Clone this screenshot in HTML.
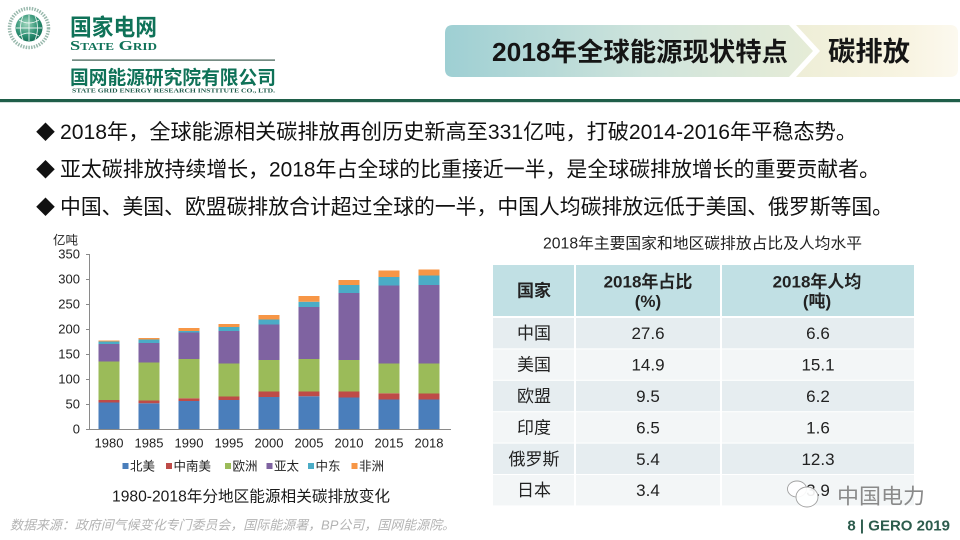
<!DOCTYPE html>
<html><head><meta charset="utf-8"><style>
html,body{margin:0;padding:0;background:#fff;}
svg{display:block;}
</style></head><body>
<svg width="960" height="540" viewBox="0 0 960 540" xmlns="http://www.w3.org/2000/svg" font-family="Liberation Sans, Noto Sans CJK SC, sans-serif">
<defs>
<linearGradient id="bl" x1="0" x2="1" y1="0" y2="0">
<stop offset="0" stop-color="#9ecfd3"/><stop offset="0.55" stop-color="#cfe4dc"/><stop offset="1" stop-color="#e6ecd7"/>
</linearGradient>
<linearGradient id="br" x1="0" x2="1" y1="0" y2="0">
<stop offset="0" stop-color="#eeeed7"/><stop offset="0.7" stop-color="#f8f4e2"/><stop offset="1" stop-color="#fcf9ef"/>
</linearGradient>
<radialGradient id="gl" cx="0.4" cy="0.35" r="0.7">
<stop offset="0" stop-color="#9fd6bd"/><stop offset="0.6" stop-color="#2f9274"/><stop offset="1" stop-color="#106a52"/>
</radialGradient>
</defs>
<rect width="960" height="540" fill="#fff"/>

<!-- Logo -->
<circle cx="29" cy="28" r="19.5" fill="none" stroke="#7fa898" stroke-width="3.5" stroke-dasharray="1.5 1.2" opacity="0.8"/>
<circle cx="29" cy="28" r="13.5" fill="url(#gl)"/>
<path d="M16 28 H42 M29 15 V41 M19 20 Q29 26 39 20 M19 36 Q29 30 39 36 M23 16 Q18 28 23 40 M35 16 Q40 28 35 40" stroke="#fff" stroke-width="0.9" fill="none" opacity="0.85"/>
<text x="70" y="35" font-size="23" font-weight="700" fill="#0f7258" textLength="87" lengthAdjust="spacingAndGlyphs">国家电网</text>
<text x="70" y="50" font-family="Liberation Serif, serif" font-size="14" font-weight="700" fill="#0f7258" style="font-variant:small-caps" textLength="87" lengthAdjust="spacingAndGlyphs">State Grid</text>
<rect x="72" y="59.5" width="203" height="1.2" fill="#3a5a4e"/>
<text x="70" y="84" font-size="19" font-weight="700" fill="#0f7258" textLength="206" lengthAdjust="spacingAndGlyphs">国网能源研究院有限公司</text>
<text x="72" y="92.5" font-family="Liberation Serif, serif" font-size="6.3" font-weight="700" fill="#1d5a4a" textLength="203" lengthAdjust="spacingAndGlyphs">STATE GRID ENERGY RESEARCH INSTITUTE CO., LTD.</text>
<rect x="0" y="99" width="960" height="3.2" fill="#1f5e49"/>

<!-- Banner -->
<path d="M453 25 H789 L813 51 L789 77 H453 Q445 77 445 69 V33 Q445 25 453 25 Z" fill="url(#bl)"/>
<path d="M796 25 H950 Q958 25 958 33 V69 Q958 77 950 77 H796 L820 51 Z" fill="url(#br)"/>
<text x="492" y="61" font-size="26" font-weight="700" fill="#151515" textLength="296" lengthAdjust="spacingAndGlyphs">2018年全球能源现状特点</text>
<text x="828" y="61" font-size="27" font-weight="700" fill="#151515" textLength="82" lengthAdjust="spacingAndGlyphs">碳排放</text>

<!-- Bullets -->
<g font-size="21" fill="#111">
<text x="36" y="139" font-family="Noto Sans CJK SC, sans-serif" font-size="19">◆</text>
<text x="60" y="139" textLength="797" lengthAdjust="spacingAndGlyphs">2018年，全球能源相关碳排放再创历史新高至331亿吨，打破2014-2016年平稳态势。</text>
<text x="36" y="176.5" font-family="Noto Sans CJK SC, sans-serif" font-size="19">◆</text>
<text x="60" y="176.5" textLength="820" lengthAdjust="spacingAndGlyphs">亚太碳排放持续增长，2018年占全球的比重接近一半，是全球碳排放增长的重要贡献者。</text>
<text x="36" y="214" font-family="Noto Sans CJK SC, sans-serif" font-size="19">◆</text>
<text x="60" y="214" textLength="833" lengthAdjust="spacingAndGlyphs">中国、美国、欧盟碳排放合计超过全球的一半，中国人均碳排放远低于美国、俄罗斯等国。</text>
</g>

<!-- Chart -->
<g font-size="13" fill="#222">
<text x="53" y="244.5" font-size="12.5">亿吨</text>
<g text-anchor="end">
<text x="80" y="258.5">350</text>
<text x="80" y="283.5">300</text>
<text x="80" y="308.5">250</text>
<text x="80" y="333.5">200</text>
<text x="80" y="358.5">150</text>
<text x="80" y="383.5">100</text>
<text x="80" y="408.5">50</text>
<text x="80" y="433.5">0</text>
</g>
</g>
<g stroke="#8a8a8a" stroke-width="1">
<line x1="89.5" y1="254" x2="89.5" y2="429.5"/>
<line x1="89" y1="429.5" x2="451" y2="429.5"/>
<line x1="86" y1="254.5" x2="89.5" y2="254.5"/>
<line x1="86" y1="279.5" x2="89.5" y2="279.5"/>
<line x1="86" y1="304.5" x2="89.5" y2="304.5"/>
<line x1="86" y1="329.5" x2="89.5" y2="329.5"/>
<line x1="86" y1="354.5" x2="89.5" y2="354.5"/>
<line x1="86" y1="379.5" x2="89.5" y2="379.5"/>
<line x1="86" y1="404.5" x2="89.5" y2="404.5"/>
<line x1="86" y1="429.5" x2="89.5" y2="429.5"/>
</g>
<!-- bars -->
<g>
<!-- 1980 -->
<rect x="98.5" y="402.5" width="21" height="26.5" fill="#4a7ebb"/>
<rect x="98.5" y="400" width="21" height="2.5" fill="#be4b48"/>
<rect x="98.5" y="361.5" width="21" height="38.5" fill="#9bbb59"/>
<rect x="98.5" y="344" width="21" height="17.5" fill="#7f63a1"/>
<rect x="98.5" y="341.5" width="21" height="2.5" fill="#4bacc6"/>
<rect x="98.5" y="340.5" width="21" height="1" fill="#f79646"/>
<!-- 1985 -->
<rect x="138.5" y="403.25" width="21" height="25.75" fill="#4a7ebb"/>
<rect x="138.5" y="400.5" width="21" height="2.75" fill="#be4b48"/>
<rect x="138.5" y="362.5" width="21" height="38" fill="#9bbb59"/>
<rect x="138.5" y="343" width="21" height="19.5" fill="#7f63a1"/>
<rect x="138.5" y="339.5" width="21" height="3.5" fill="#4bacc6"/>
<rect x="138.5" y="338" width="21" height="1.5" fill="#f79646"/>
<!-- 1990 -->
<rect x="178.5" y="401" width="21" height="28" fill="#4a7ebb"/>
<rect x="178.5" y="398.25" width="21" height="2.75" fill="#be4b48"/>
<rect x="178.5" y="359" width="21" height="39.25" fill="#9bbb59"/>
<rect x="178.5" y="332.5" width="21" height="26.5" fill="#7f63a1"/>
<rect x="178.5" y="331" width="21" height="1.5" fill="#4bacc6"/>
<rect x="178.5" y="328" width="21" height="3" fill="#f79646"/>
<!-- 1995 -->
<rect x="218.5" y="400" width="21" height="29" fill="#4a7ebb"/>
<rect x="218.5" y="396.5" width="21" height="3.5" fill="#be4b48"/>
<rect x="218.5" y="363.5" width="21" height="33" fill="#9bbb59"/>
<rect x="218.5" y="331" width="21" height="32.5" fill="#7f63a1"/>
<rect x="218.5" y="327" width="21" height="4" fill="#4bacc6"/>
<rect x="218.5" y="324" width="21" height="3" fill="#f79646"/>
<!-- 2000 -->
<rect x="258.5" y="397" width="21" height="32" fill="#4a7ebb"/>
<rect x="258.5" y="391.5" width="21" height="5.5" fill="#be4b48"/>
<rect x="258.5" y="360" width="21" height="31.5" fill="#9bbb59"/>
<rect x="258.5" y="324.5" width="21" height="35.5" fill="#7f63a1"/>
<rect x="258.5" y="319.5" width="21" height="5" fill="#4bacc6"/>
<rect x="258.5" y="315" width="21" height="4.5" fill="#f79646"/>
<!-- 2005 -->
<rect x="298.5" y="396.25" width="21" height="32.75" fill="#4a7ebb"/>
<rect x="298.5" y="391.5" width="21" height="4.75" fill="#be4b48"/>
<rect x="298.5" y="359" width="21" height="32.5" fill="#9bbb59"/>
<rect x="298.5" y="307" width="21" height="52" fill="#7f63a1"/>
<rect x="298.5" y="301.75" width="21" height="5.25" fill="#4bacc6"/>
<rect x="298.5" y="296" width="21" height="5.75" fill="#f79646"/>
<!-- 2010 -->
<rect x="338.5" y="397.5" width="21" height="31.5" fill="#4a7ebb"/>
<rect x="338.5" y="391.5" width="21" height="6" fill="#be4b48"/>
<rect x="338.5" y="360" width="21" height="31.5" fill="#9bbb59"/>
<rect x="338.5" y="293" width="21" height="67" fill="#7f63a1"/>
<rect x="338.5" y="285" width="21" height="8" fill="#4bacc6"/>
<rect x="338.5" y="280" width="21" height="5" fill="#f79646"/>
<!-- 2015 -->
<rect x="378.5" y="399.5" width="21" height="29.5" fill="#4a7ebb"/>
<rect x="378.5" y="393.25" width="21" height="6.25" fill="#be4b48"/>
<rect x="378.5" y="363.5" width="21" height="29.75" fill="#9bbb59"/>
<rect x="378.5" y="285.5" width="21" height="78" fill="#7f63a1"/>
<rect x="378.5" y="277" width="21" height="8.5" fill="#4bacc6"/>
<rect x="378.5" y="270.5" width="21" height="6.5" fill="#f79646"/>
<!-- 2018 -->
<rect x="418.5" y="399.5" width="21" height="29.5" fill="#4a7ebb"/>
<rect x="418.5" y="393.5" width="21" height="6" fill="#be4b48"/>
<rect x="418.5" y="363.5" width="21" height="30" fill="#9bbb59"/>
<rect x="418.5" y="285" width="21" height="78.5" fill="#7f63a1"/>
<rect x="418.5" y="275.5" width="21" height="9.5" fill="#4bacc6"/>
<rect x="418.5" y="269.5" width="21" height="6" fill="#f79646"/>
</g>
<g font-size="13" fill="#222" text-anchor="middle">
<text x="109" y="447.5">1980</text>
<text x="149" y="447.5">1985</text>
<text x="189" y="447.5">1990</text>
<text x="229" y="447.5">1995</text>
<text x="269" y="447.5">2000</text>
<text x="309" y="447.5">2005</text>
<text x="349" y="447.5">2010</text>
<text x="389" y="447.5">2015</text>
<text x="429" y="447.5">2018</text>
</g>
<!-- legend -->
<g font-size="12.5" fill="#222">
<rect x="122.5" y="463" width="6" height="6" fill="#4a7ebb"/><text x="130" y="470.5">北美</text>
<rect x="166" y="463" width="6" height="6" fill="#be4b48"/><text x="173.5" y="470.5">中南美</text>
<rect x="225" y="463" width="6" height="6" fill="#9bbb59"/><text x="232.5" y="470.5">欧洲</text>
<rect x="266.5" y="463" width="6" height="6" fill="#7f63a1"/><text x="274" y="470.5">亚太</text>
<rect x="308" y="463" width="6" height="6" fill="#4bacc6"/><text x="315.5" y="470.5">中东</text>
<rect x="351.5" y="463" width="6" height="6" fill="#f79646"/><text x="359" y="470.5">非洲</text>
</g>
<text x="112" y="501.5" font-size="15.5" fill="#1a1a1a" textLength="278" lengthAdjust="spacingAndGlyphs">1980-2018年分地区能源相关碳排放变化</text>

<!-- Table -->
<text x="543" y="248.5" font-size="15.5" fill="#222" textLength="319" lengthAdjust="spacingAndGlyphs">2018年主要国家和地区碳排放占比及人均水平</text>
<rect x="493" y="265" width="421" height="51" fill="#c1e0e4"/>
<rect x="493" y="318" width="421" height="30.4" fill="#e6edf0"/>
<rect x="493" y="349.4" width="421" height="30.4" fill="#f3f6f7"/>
<rect x="493" y="380.8" width="421" height="30.4" fill="#e6edf0"/>
<rect x="493" y="412.2" width="421" height="30.4" fill="#f3f6f7"/>
<rect x="493" y="443.6" width="421" height="30.4" fill="#e6edf0"/>
<rect x="493" y="475" width="421" height="30.4" fill="#f3f6f7"/>
<rect x="574" y="265" width="2" height="241" fill="#fff"/>
<rect x="720" y="265" width="2" height="241" fill="#fff"/>
<g font-size="17" font-weight="700" fill="#222" text-anchor="middle">
<text x="534" y="296.5">国家</text>
<text x="648" y="287.5">2018年占比</text>
<text x="648" y="307">(%)</text>
<text x="817" y="287.5">2018年人均</text>
<text x="817" y="307">(吨)</text>
</g>
<g font-size="17" fill="#222" text-anchor="middle">
<text x="534" y="339.2">中国</text><text x="648" y="339.2">27.6</text><text x="818" y="339.2">6.6</text>
<text x="534" y="370.6">美国</text><text x="648" y="370.6">14.9</text><text x="818" y="370.6">15.1</text>
<text x="534" y="402">欧盟</text><text x="648" y="402">9.5</text><text x="818" y="402">6.2</text>
<text x="534" y="433.4">印度</text><text x="648" y="433.4">6.5</text><text x="818" y="433.4">1.6</text>
<text x="534" y="464.8">俄罗斯</text><text x="648" y="464.8">5.4</text><text x="818" y="464.8">12.3</text>
<text x="534" y="496.2">日本</text><text x="648" y="496.2">3.4</text><text x="818" y="496.2">3.9</text>
</g>

<!-- Watermark -->
<ellipse cx="797" cy="489" rx="9.5" ry="8" fill="#fff" fill-opacity="0.9" stroke="#a0a0a0" stroke-width="0.9"/>
<ellipse cx="807" cy="497" rx="11" ry="10" fill="#fff" fill-opacity="0.92" stroke="#a0a0a0" stroke-width="0.9"/>
<text x="837" y="503.5" font-size="21" fill="#8a8a8a" textLength="88" lengthAdjust="spacingAndGlyphs">中国电力</text>

<!-- Footer -->
<text x="10" y="529.5" font-size="13" font-style="italic" fill="#b3b3b3" textLength="445" lengthAdjust="spacingAndGlyphs">数据来源：政府间气候变化专门委员会，国际能源署，BP公司，国网能源院。</text>
<text x="950" y="530.5" font-size="15" font-weight="700" fill="#2d5c4d" text-anchor="end">8 | GERO 2019</text>
</svg>
</body></html>
